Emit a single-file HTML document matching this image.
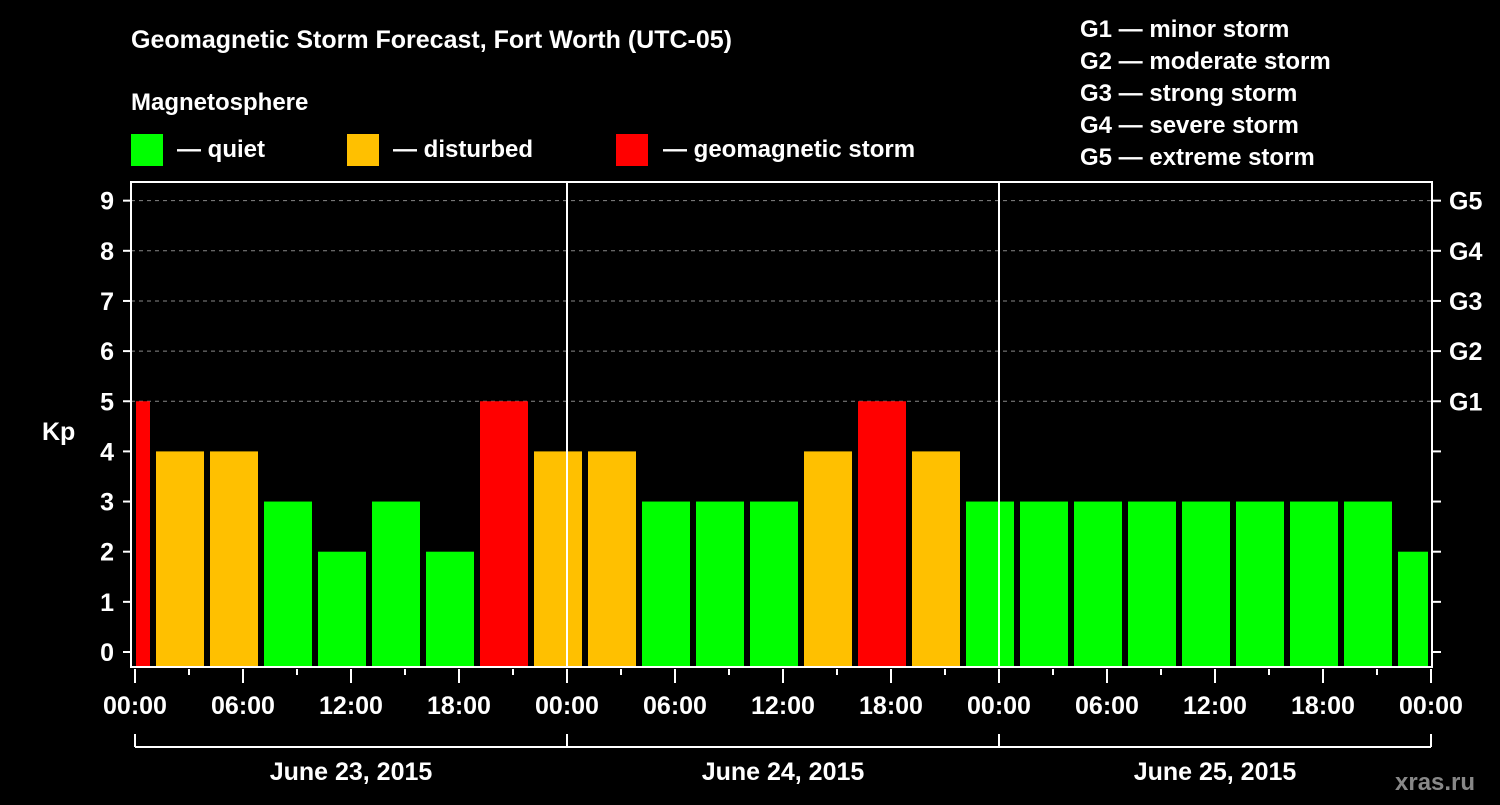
<!DOCTYPE html>
<html><head><meta charset="utf-8"><style>
body{margin:0;background:#000;width:1500px;height:800px;overflow:hidden}
svg text{font-family:"Liberation Sans",Arial,sans-serif;font-weight:bold;fill:#fff}
</style></head><body>
<svg id="c" width="1500" height="800">
<text x="131" y="48" font-size="25">Geomagnetic Storm Forecast, Fort Worth (UTC-05)</text>
<text x="131" y="110" font-size="24">Magnetosphere</text>
<g><rect x="131" y="134" width="32" height="32" fill="#00ff00"/><text x="177" y="157" font-size="24">— quiet</text></g>
<g><rect x="347" y="134" width="32" height="32" fill="#ffc000"/><text x="393" y="157" font-size="24">— disturbed</text></g>
<g><rect x="616" y="134" width="32" height="32" fill="#ff0000"/><text x="663" y="157" font-size="24">— geomagnetic storm</text></g>
<g font-size="24">
<text x="1080" y="37">G1 — minor storm</text><text x="1080" y="69">G2 — moderate storm</text><text x="1080" y="101">G3 — strong storm</text><text x="1080" y="133">G4 — severe storm</text><text x="1080" y="165">G5 — extreme storm</text></g>
<text x="42" y="440" font-size="25">Kp</text>
<text x="1395" y="790" font-size="24" style="fill:#888">xras.ru</text>
<g id="marks"></g>
</svg>
<script>
const values=[5,4,4,3,2,3,2,5,4,4,3,3,3,4,5,4,3,3,3,3,3,3,3,3,2];
const yTicks=[0,1,2,3,4,5,6,7,8,9];
const gLabels=["G1","G2","G3","G4","G5"];
const xLabels=["00:00","06:00","12:00","18:00","00:00","06:00","12:00","18:00","00:00","06:00","12:00","18:00","00:00"];
const days=["June 23, 2015","June 24, 2015","June 25, 2015"];
const NS="http://www.w3.org/2000/svg";
const g=document.getElementById('marks');
const X0=135,PXH=18,Y0=652,PXV=50.15,TOP=182,BOT=667,L=131,R=1432;
const x=h=>X0+h*PXH, y=v=>Y0-v*PXV;
function mk(t,a,p){const e=document.createElementNS(NS,t);for(const k in a)e.setAttribute(k,a[k]);(p||g).appendChild(e);return e;}
// grid
for(let v=5;v<=9;v++){const e=mk('line',{x1:L,x2:R,y1:y(v),y2:y(v),stroke:'#888','stroke-dasharray':'4,4'});

}
// bars
values.forEach((v,i)=>{let s=1+3*(i-1),e=s+3;let a=Math.max(x(s)+3,x(0)+1),b=Math.min(x(e)-3,x(72)-3);
const r=mk('rect',{x:a,y:y(v),width:b-a,height:BOT-y(v),fill:v>=5?'#ff0000':v>=4?'#ffc000':'#00ff00'});

});
// frame
const f=mk('rect',{x:L,y:TOP,width:R-L,height:BOT-TOP,fill:'none',stroke:'#fff','stroke-width':2});


[24,48].forEach(h=>{const l=mk('line',{x1:x(h),x2:x(h),y1:TOP,y2:BOT,stroke:'#fff','stroke-width':2});

});
// y ticks
yTicks.forEach(v=>{mk('line',{x1:L-8,x2:L,y1:y(v),y2:y(v),stroke:'#fff','stroke-width':2});mk('line',{x1:R,x2:R+9,y1:y(v),y2:y(v),stroke:'#fff','stroke-width':2});
const t=mk('text',{x:114,y:y(v)+9,'font-size':25,'text-anchor':'end'});t.textContent=v;

});
gLabels.forEach((s,i)=>{const t=mk('text',{x:1449,y:y(5+i)+9,'font-size':25});t.textContent=s;

});
// x ticks
for(let h=0;h<=72;h+=3){mk('line',{x1:x(h),x2:x(h),y1:BOT+2,y2:BOT+(h%6?8:16),stroke:'#fff','stroke-width':2});}
xLabels.forEach((s,i)=>{const t=mk('text',{x:x(i*6),y:714,'font-size':25,'text-anchor':'middle'});t.textContent=s;

});
// day brackets
mk('line',{x1:x(0),x2:x(72),y1:747,y2:747,stroke:'#fff','stroke-width':2});
[0,24,48,72].forEach(h=>mk('line',{x1:x(h),x2:x(h),y1:734,y2:747,stroke:'#fff','stroke-width':2}));
days.forEach((s,i)=>{const t=mk('text',{x:x(i*24+12),y:780,'font-size':25,'text-anchor':'middle'});t.textContent=s;

});
</script>
</body></html>
